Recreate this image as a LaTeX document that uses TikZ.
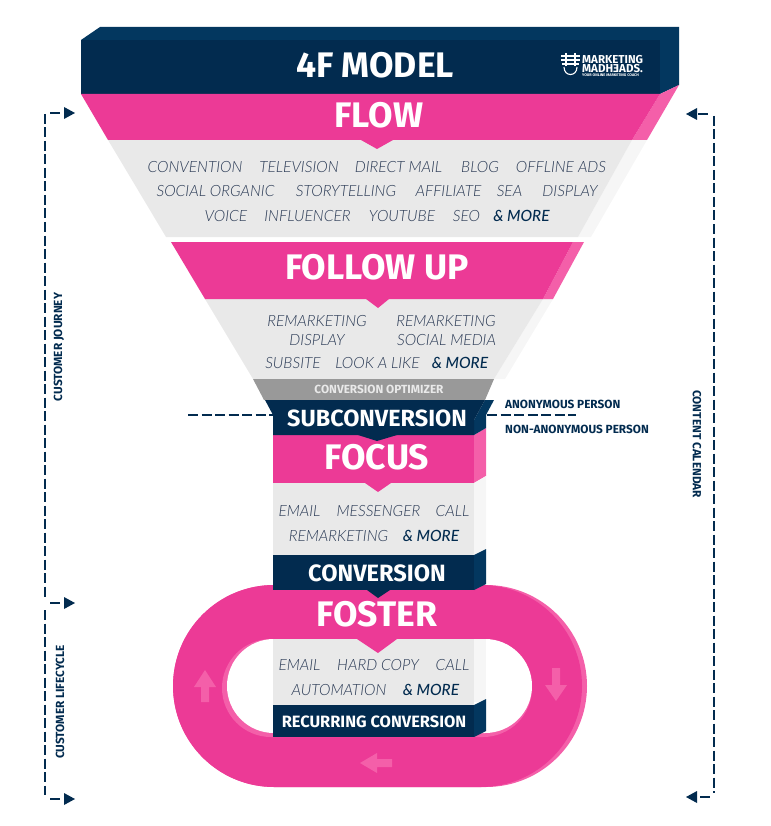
\documentclass[tikz,border=0pt]{standalone}
\usepackage{fontspec}
\setmainfont{Fira Sans}
\newfontfamily\itemfont{Lato Light Italic}
\newfontfamily\moreitemfont{Lato Medium Italic}
\usetikzlibrary{calc}
\definecolor{pinkfront}{HTML}{EC3A96}
\definecolor{pinkside}{HTML}{F45FA9}
\definecolor{navyfront}{HTML}{022B4F}
\definecolor{navyside}{HTML}{03375F}
\definecolor{grayfront}{HTML}{E9E9E9}
\definecolor{grayside}{HTML}{F6F6F6}
\definecolor{itemcolor}{HTML}{2A3A55}
\def\pill[#1](#2:#3:#4:#5){\fill[#1] (#2,#4-#5) -- (#3,#4-#5) arc (-90:90:#5) -- (#2,#4+#5) arc (90:270:#5) -- cycle;}
\def\darrow(#1,#2){\fill[navyfront] (#1,#2-6) -- (#1+11,#2) -- (#1,#2+6) -- cycle;}
\def\sarrow(#1,#2){\fill[navyfront] (#1,#2-6) -- (#1-11,#2) -- (#1,#2+6) -- cycle;}
\tikzset{
	title/.style={font=\bfseries\fontsize{#1}{#1}\selectfont,text=white,inner sep=0pt},
	item/.style={font=\itemfont\fontsize{15.5}{16}\selectfont,text=itemcolor,inner sep=0pt},
	more/.style={font=\moreitemfont\fontsize{15.5}{16}\selectfont,text=navyfront,inner sep=0pt},
	side/.style={font=\bfseries\fontsize{11.8}{12}\selectfont,text=navyfront,inner sep=0pt},
	logotext/.style={font=\bfseries\fontsize{#1}{#1}\selectfont,text=white,inner sep=0pt,anchor=west},
	dashline/.style={navyfront,line width=1.8pt,dash pattern=on 10pt off 3.5pt}
}
\begin{document}
\begin{tikzpicture}[x=1pt,y=-1pt]
	\useasboundingbox (0,0) rectangle (770,826);
	%%%%% RING %%%%%
	\pill[pinkside](274:486:686:101)
	\pill[pinkfront](274:481:686:101)
	\pill[pinkside](271:483:688:49)
	\pill[white](274:485:686:47)

	%%%%% HEADER %%%%%
	\fill[navyside] (81,40) -- (100,27) -- (679,27) -- (679,85) -- (660,94) -- (660,40) -- cycle;
	\fill[navyfront] (81,40) rectangle (660,94);

	%%%%% FLOW %%%%%
	\fill[grayside] (632,140) -- (647,140) -- (591,237) -- (578,237) -- cycle;
	\fill[grayfront] (108,140) -- (632,140) -- (578,237) -- (166,237) -- cycle;
	\fill[pinkside] (660,94) -- (679,85) -- (647,140) -- (632,140) -- cycle;
	\fill[pinkfront] (81,94) -- (660,94) -- (632,140) -- (108,140) -- cycle;
	\fill[pinkfront] (361,140) -- (377,149) -- (393,140) -- cycle;

	%%%%% FOLLOW UP %%%%%
	\fill[grayside] (543,299) -- (553,299) -- (505,379) -- (494,379) -- cycle;
	\fill[grayfront] (205,299) -- (543,299) -- (494,379) -- (253,379) -- cycle;
	\fill[pinkside] (573,242) -- (584,242) -- (553,299) -- (543,299) -- cycle;
	\fill[pinkfront] (171,242) -- (573,242) -- (543,299) -- (205,299) -- cycle;
	\fill[pinkfront] (366,299) -- (378,308) -- (389,299) -- cycle;
	\fill[black!40] (253,379) -- (494,379) -- (485,400) -- (264,400) -- cycle;

	%%%%% SUBCONVERSION AND FOCUS %%%%%
	\fill[pinkside] (474,435) -- (486,428) -- (486,476) -- (474,483) -- cycle;
	\fill[pinkfront] (273,435) rectangle (474,483);
	\fill[navyside] (485,400) -- (494,400) -- (486,415) -- (486,428) -- (474,435) -- (474,420) -- cycle;
	\fill[navyfront] (265,400) -- (485,400) -- (474,420) -- (474,435) -- (273,435) -- (273,415) -- cycle;
	\fill[navyfront] (358,435) -- (377,441) -- (397,435) -- cycle;
	\fill[grayside] (474,483) -- (486,476) -- (486,549) -- (474,555) -- cycle;
	\fill[grayfront] (273,483) rectangle (474,555);
	\fill[pinkfront] (365,483) -- (378,492) -- (391,483) -- cycle;

	%%%%% CONVERSION %%%%%
	\fill[navyside] (474,555) -- (486,549) -- (486,584) -- (474,590) -- cycle;
	\fill[navyfront] (273,555) rectangle (474,590);
	\fill[navyfront] (367,590) -- (378,598) -- (390,590) -- cycle;

	%%%%% FOSTER %%%%%
	\fill[grayside] (474,639) rectangle (486,702);
	\fill[grayfront] (273,639) rectangle (474,705);
	\fill[pinkfront] (357,639) -- (378,653) -- (397,639) -- cycle;
	\fill[navyside] (474,705) -- (486,699) -- (486,731) -- (474,737) -- cycle;
	\fill[navyfront] (273,705) rectangle (474,737);

	\fill[pinkside] (205,670) -- (216,687) -- (209,687) -- (209,702) -- (201,702) -- (201,687) -- (194,687) -- cycle;
	\fill[pinkside] (556,701) -- (567,685) -- (560,685) -- (560,668) -- (552,668) -- (552,685) -- (545,685) -- cycle;
	\fill[pinkside] (360,763) -- (377,753) -- (377,759) -- (392,759) -- (392,767) -- (377,767) -- (377,773) -- cycle;

	%%%%% TITLES %%%%%
	\node[title=35.5] (model) at (375,65) {4F MODEL};
	\node[title=35.5] (flow) at (379,115) {FLOW};
	\node[title=35.5] (followup) at (377,267) {FOLLOW UP};
	\node[title=11.8,text=grayfront] (optimizer) at (379,389) {CONVERSION OPTIMIZER};
	\node[title=23.4] (subconversion) at (377,418) {SUBCONVERSION};
	\node[title=35.5] (focus) at (377,457) {FOCUS};
	\node[title=23.6] (conversion) at (377,573) {CONVERSION};
	\node[title=35.5] (foster) at (377,614) {FOSTER};
	\node[title=16.4] (recurring) at (374,722) {RECURRING CONVERSION};

	%%%%% LISTS %%%%%
	\foreach \cx/\ctext [count=\n] in {195/CONVENTION,299/TELEVISION,398.5/DIRECT MAIL,480/BLOG,561/OFFLINE ADS}
		\node[item] (flowa\n) at (\cx,167) {\ctext};
	\foreach \cx/\ctext [count=\n] in {215.5/SOCIAL ORGANIC,346/STORYTELLING,448.5/AFFILIATE,509.5/SEA,570/DISPLAY}
		\node[item] (flowb\n) at (\cx,191) {\ctext};
	\foreach \cx/\ctext [count=\n] in {226/VOICE,307.5/INFLUENCER,402/YOUTUBE,466.5/SEO}
		\node[item] (flowc\n) at (\cx,216) {\ctext};
	\node[more] (flowmore) at (521.5,216) {\& MORE};

	\foreach \cx/\cy/\ctext [count=\n] in {317/321/REMARKETING,446/321/REMARKETING,317/340/DISPLAY,446.5/340/SOCIAL MEDIA,293/363/SUBSITE,377.5/363/LOOK A LIKE}
		\node[item] (follow\n) at (\cx,\cy) {\ctext};
	\node[more] (followmore) at (460,363) {\& MORE};

	\foreach \cx/\cy/\ctext [count=\n] in {299.5/511/EMAIL,378.5/511/MESSENGER,452.5/511/CALL,338.5/536/REMARKETING}
		\node[item] (focus\n) at (\cx,\cy) {\ctext};
	\node[more] (focusmore) at (431,536) {\& MORE};

	\foreach \cx/\cy/\ctext [count=\n] in {299.5/665/EMAIL,378/665/HARD COPY,452.5/665/CALL,339/690/AUTOMATION}
		\node[item] (foster\n) at (\cx,\cy) {\ctext};
	\node[more] (fostermore) at (431,690) {\& MORE};

	%%%%% LOGO %%%%%
	\draw[white,line width=1.1pt] (561,56) -- (580,56) (561,60) -- (580,60) (562,64) -- (579,64) (566,53) -- (566,66) (575,53) -- (575,66);
	\draw[white,line width=1.1pt] (564,67) .. controls (564,77) and (577,77) .. (577,67);
	\node[logotext=11.5] (logoa) at (582,59.5) {MARKETING};
	\node[logotext=11.5] (logob) at (582,69) {MADH\reflectbox{E}ADS.};
	\node[logotext=3.8] (logoc) at (582,75) {YOUR ONLINE MARKETING COACH};

	%%%%% BRACKETS %%%%%
	\draw[dashline] (45,114) -- (45,598);
	\draw[dashline] (45,610) -- (45,795);
	\draw[dashline] (714,116) -- (714,793);
	\draw[dashline] (188,415) -- (273,415);
	\draw[dashline] (487,415) -- (576,415);
	\draw[navyfront,line width=1.8pt] (50,113) -- (60,113);
	\draw[navyfront,line width=1.8pt] (50,603) -- (60,603);
	\draw[navyfront,line width=1.8pt] (50,799) -- (60,799);
	\draw[navyfront,line width=1.8pt] (698,114) -- (708,114);
	\draw[navyfront,line width=1.8pt] (700,797) -- (710,797);
	\darrow(64,113)
	\darrow(64,603)
	\darrow(64,799)
	\sarrow(697,114)
	\sarrow(697,797)

	\node[side,rotate=90] (journey) at (59,347) {CUSTOMER JOURNEY};
	\node[side,rotate=90] (lifecycle) at (60,702) {CUSTOMER LIFECYCLE};
	\node[side,rotate=-90] (calendar) at (697,444) {CONTENT CALENDAR};
	\node[side,anchor=west] (anonymous) at (505,404) {ANONYMOUS PERSON};
	\node[side,anchor=west] (nonanonymous) at (505,429) {NON-ANONYMOUS PERSON};
\end{tikzpicture}
\end{document}
